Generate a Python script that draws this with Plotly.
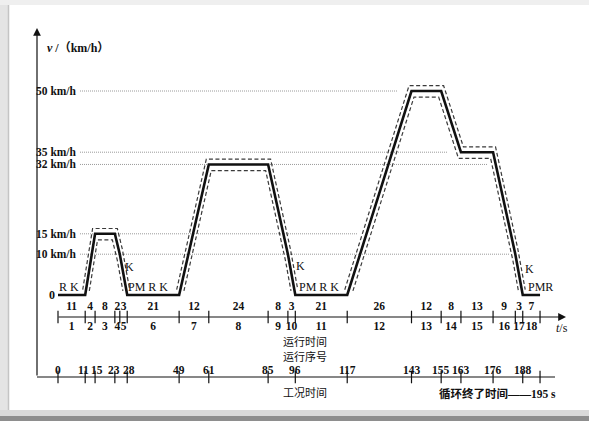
import plotly.graph_objects as go

# ---------------- data ----------------
seg_durations = [11, 4, 8, 2, 3, 21, 12, 24, 8, 3, 21, 26, 12, 8, 13, 9, 3, 7]
seg_numbers = [1, 2, 3, 4, 5, 6, 7, 8, 9, 10, 11, 12, 13, 14, 15, 16, 17, 18]
seg_end_speed = [0, 15, 15, 10, 0, 0, 32, 32, 10, 0, 0, 50, 50, 35, 35, 10, 0, 0]
work_times = [0, 11, 15, 23, 28, 49, 61, 85, 96, 117, 143, 155, 163, 176, 188]
cycle_end = 195
ref_speeds = [50, 35, 32, 15, 10]
ref_labels = ["50 km/h", "35 km/h", "32 km/h", "15 km/h", "10 km/h"]
op_labels = ["R K", "K", "PM R K", "K", "PM R K", "K", "PMR"]
tol_time = 1.0
tol_speed_up = 1.3
tol_speed_lo = 1.5

# ---------------- layout (pixel geometry of the picture) ----------------
W, H = 589, 421
PX0, SX = 58.0, 2.472     # pixel x of t=0, px per second
PY0, SY = 295.0, 4.08     # pixel y of v=0, px per km/h


def tx(px):
    return (px - PX0) / SX


def vy(py):
    return (PY0 - py) / SY


FONT = "Liberation Serif, 'Noto Sans CJK SC', serif"
CJK = "'Noto Sans CJK SC', sans-serif"
INK = "#111111"
FS = 11.5

ref_line_start = tx(80)
ref_line_end = [tx(398), tx(447), tx(487), tx(358), tx(510)]
op_pos_px = [(69, 287), (129, 267), (148, 287), (300, 266), (319, 287), (529, 269), (540, 287)]
bottom_shift = {11: -2, 15: 2, 23: -1, 28: 2}

Y_TS = vy(317)      # running-time axis
Y_WORK = vy(377)    # work-time axis
X_YAX = tx(37)

# ---------------- derived profile ----------------
t_nodes = [0]
for d in seg_durations:
    t_nodes.append(t_nodes[-1] + d)
v_nodes = [0] + seg_end_speed
mids = [t_nodes[i] + seg_durations[i] / 2 for i in range(len(seg_durations))]

# humps (non-idle parts)
humps = []
i = 0
n = len(t_nodes)
while i < n - 1:
    if v_nodes[i] == 0 and v_nodes[i + 1] > 0:
        j = i + 1
        while v_nodes[j] != 0:
            j += 1
        humps.append((t_nodes[i:j + 1], v_nodes[i:j + 1]))
        i = j
    else:
        i += 1


def envelope(ts, vs, dt, dv, upper, v_cut=1.0):
    xs, ys = [], []
    m = len(ts)
    for k in range(m):
        t, v = ts[k], vs[k]
        if k == 0:
            s = (vs[1] - vs[0]) / (ts[1] - ts[0])
            if upper:
                xs.append(t - dt); ys.append(dv)
            else:
                xs.append(t + dt + (dv + v_cut) / s); ys.append(v_cut)
        elif k == m - 1:
            s = abs((vs[k] - vs[k - 1]) / (ts[k] - ts[k - 1]))
            if upper:
                xs.append(t + dt); ys.append(dv)
            else:
                xs.append(t - dt - (dv + v_cut) / s); ys.append(v_cut)
        else:
            rising = vs[k] > vs[k - 1] or vs[k + 1] > vs[k]
            sh = -dt if rising else dt
            if not upper:
                sh = -sh
            xs.append(t + sh)
            ys.append(v + (dv if upper else -dv))
    return xs, ys


fig = go.Figure()

# reference speed lines
for s, e in zip(ref_speeds, ref_line_end):
    fig.add_trace(go.Scatter(x=[ref_line_start, e], y=[s, s], mode="lines",
                             line=dict(color="#9a9a9a", width=1, dash="1px,1px")))

# tolerance envelopes
for ts, vs in humps:
    for up in (True, False):
        ex, ey = envelope(ts, vs, tol_time, tol_speed_up if up else tol_speed_lo, up)
        fig.add_trace(go.Scatter(x=ex, y=ey, mode="lines",
                                 line=dict(color="#3a3a3a", width=1.2, dash="4px,2.5px")))

# speed profile
fig.add_trace(go.Scatter(x=t_nodes, y=v_nodes, mode="lines",
                         line=dict(color=INK, width=2.6)))

# axis tick marks
fig.add_trace(go.Scatter(x=t_nodes, y=[Y_TS] * len(t_nodes), mode="markers",
                         marker=dict(symbol="line-ns", size=9,
                                     line=dict(color=INK, width=1.2))))
fig.add_trace(go.Scatter(x=work_times + [cycle_end], y=[Y_WORK] * (len(work_times) + 1),
                         mode="markers",
                         marker=dict(symbol="line-ns", size=9,
                                     line=dict(color=INK, width=1.2))))

# durations above the running-time axis, sequence numbers below
fig.add_trace(go.Scatter(x=mids, y=[vy(307)] * len(mids), mode="text",
                         text=[str(d) for d in seg_durations],
                         textfont=dict(family=FONT, size=FS, color=INK, weight="bold")))
fig.add_trace(go.Scatter(x=mids, y=[vy(327.5)] * len(mids), mode="text",
                         text=[str(k) for k in seg_numbers],
                         textfont=dict(family=FONT, size=FS, color=INK, weight="bold")))

ann = []
LF = dict(family=FONT, size=FS, color=INK, weight="bold")
# work-time labels
for t in work_times:
    ann.append(dict(x=t, y=vy(369.5), text=str(t), showarrow=False,
                    xshift=bottom_shift.get(t, 0), font=LF))

# speed labels
for s, lab in zip(ref_speeds, ref_labels):
    ann.append(dict(x=tx(79), y=s, text=lab, showarrow=False, xanchor="right",
                    font=dict(family=FONT, size=11.5, color=INK, weight="bold")))
ann.append(dict(x=tx(57), y=0, text="0", showarrow=False, xanchor="right",
                font=dict(family=FONT, size=12, color=INK, weight="bold")))

# operation labels
for lab, (px, py) in zip(op_labels, op_pos_px):
    ann.append(dict(x=tx(px), y=vy(py), text=lab, showarrow=False,
                    font=dict(family=FONT, size=12, color=INK)))

# titles / captions
CF = dict(family=CJK, size=11, color=INK)
ann.append(dict(x=tx(45), y=vy(48), text="<i>v</i> /（km/h）", showarrow=False,
                xanchor="left", font=dict(family=FONT, size=12, color=INK, weight="bold")))
ann.append(dict(x=tx(562), y=vy(328), text="<i>t</i>/s", showarrow=False,
                font=dict(family=FONT, size=12, color=INK)))
ann.append(dict(x=tx(305), y=vy(341), text="运行时间", showarrow=False, font=CF))
ann.append(dict(x=tx(305), y=vy(355.5), text="运行序号", showarrow=False, font=CF))
ann.append(dict(x=tx(305), y=vy(392), text="工况时间", showarrow=False, font=CF))
ann.append(dict(x=tx(497), y=vy(393), text="循环终了时间——" + str(cycle_end) + " s",
                showarrow=False, font=dict(family=FONT, size=11.5, color=INK, weight="bold")))

# axes with arrow heads
ann.append(dict(x=X_YAX, y=vy(28), ax=X_YAX, ay=Y_WORK, xref="x", yref="y",
                axref="x", ayref="y", showarrow=True, arrowhead=2, arrowsize=1.3,
                arrowwidth=1.2, arrowcolor=INK, text=""))
ann.append(dict(x=tx(566), y=Y_TS, ax=tx(57), ay=Y_TS, xref="x", yref="y",
                axref="x", ayref="y", showarrow=True, arrowhead=2, arrowsize=1.3,
                arrowwidth=1.2, arrowcolor=INK, text=""))

shapes = [
    dict(type="line", xref="x", yref="y", x0=X_YAX, x1=tx(555), y0=Y_WORK, y1=Y_WORK,
         line=dict(color=INK, width=1.2)),
    # scan frame
    dict(type="rect", xref="paper", yref="paper", x0=0, x1=8 / W, y0=0, y1=1,
         fillcolor="#e4e4e4", line=dict(width=0), layer="below"),
    dict(type="rect", xref="paper", yref="paper", x0=0, x1=1, y0=1 - 5 / H, y1=1,
         fillcolor="#efefef", line=dict(width=0), layer="below"),
    dict(type="line", xref="paper", yref="paper", x0=8.5 / W, x1=8.5 / W, y0=5 / H, y1=1 - 5 / H,
         line=dict(color="#c4c4c4", width=1.5), layer="below"),
    dict(type="rect", xref="paper", yref="paper", x0=0, x1=1, y0=5 / H, y1=11 / H,
         fillcolor="#dadada", line=dict(width=0), layer="below"),
    dict(type="rect", xref="paper", yref="paper", x0=0, x1=1, y0=0, y1=5 / H,
         fillcolor="#8e8e8e", line=dict(width=0), layer="below"),
]

fig.update_layout(
    width=W, height=H, autosize=False,
    margin=dict(l=0, r=0, t=0, b=0, pad=0),
    paper_bgcolor="white", plot_bgcolor="rgba(0,0,0,0)",
    showlegend=False, hovermode=False,
    xaxis=dict(range=[tx(0), tx(W)], visible=False, fixedrange=True),
    yaxis=dict(range=[vy(H), vy(0)], visible=False, fixedrange=True),
    annotations=ann, shapes=shapes,
)

fig.write_html("out.html", config={"displayModeBar": False},
               post_script="document.body.style.margin='0px';document.body.style.overflow='hidden';")
